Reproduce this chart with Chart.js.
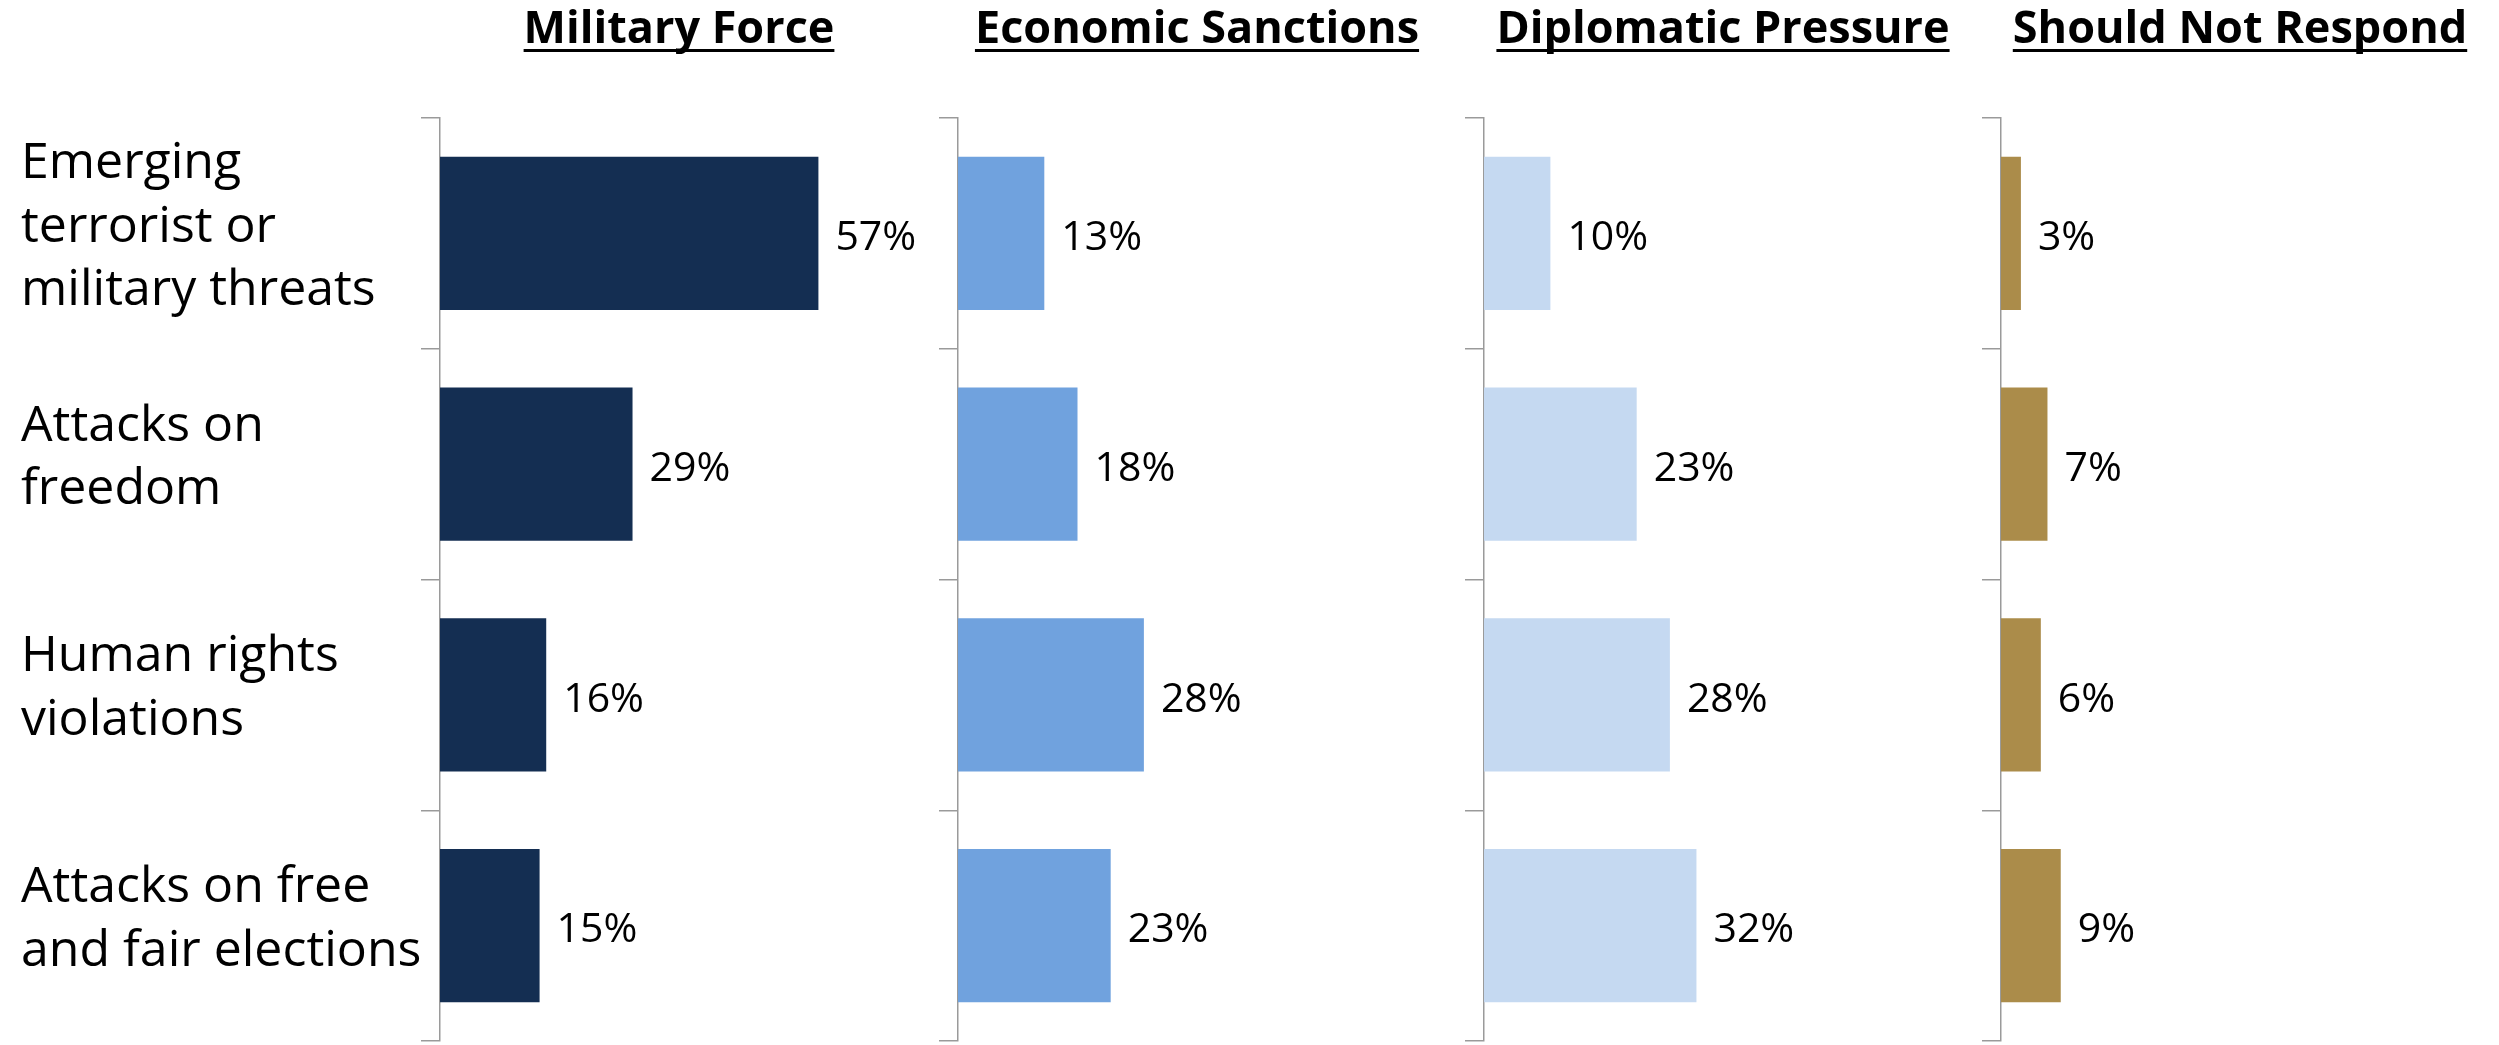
<!DOCTYPE html>
<html>
<head>
<meta charset="utf-8">
<script src="https://cdn.jsdelivr.net/npm/chart.js@4.4.1/dist/chart.umd.min.js"></script>
<style>
  html, body { margin: 0; padding: 0; background: #ffffff; }
  body { width: 2499px; height: 1045px; position: relative; overflow: hidden; }
  canvas { position: absolute; top: 0; }
</style>
</head>
<body>
<canvas id="c1"></canvas>
<canvas id="c2"></canvas>
<canvas id="c3"></canvas>
<canvas id="c4"></canvas>
<script>
// ---- Data ----
const categories = [
  ["Emerging", "terrorist or", "military threats"],
  ["Attacks on", "freedom"],
  ["Human rights", "violations"],
  ["Attacks on free", "and fair elections"]
];
const panelTitles = ["Military Force", "Economic Sanctions", "Diplomatic Pressure", "Should Not Respond"];
const militaryForce = [57, 29, 16, 15];
const economicSanctions = [13, 18, 28, 23];
const diplomaticPressure = [10, 23, 28, 32];
const shouldNotRespond = [3, 7, 6, 9];

// ---- Styling / layout (not data) ----
const seriesList = [militaryForce, economicSanctions, diplomaticPressure, shouldNotRespond];
const colors = ["#142E52", "#70A2DE", "#C5D9F1", "#AB8C4A"];
const axisX = [440, 958, 1484, 2001];
const plotW = 478;
const FONT = "'Open Sans', 'Noto Sans', sans-serif";
const TITLE_SIZE = 45;

const valueLabels = {
  id: 'valueLabels',
  afterDatasetsDraw(chart) {
    const ctx = chart.ctx;
    ctx.save();
    ctx.font = "41px " + FONT;
    ctx.fillStyle = "#000000";
    ctx.textAlign = "left";
    ctx.textBaseline = "middle";
    chart.data.datasets.forEach((ds, di) => {
      chart.getDatasetMeta(di).data.forEach((bar, i) => {
        ctx.fillText(ds.data[i] + "%", bar.x + 17, bar.y + 5);
      });
    });
    ctx.restore();
  }
};

const titleUnderline = {
  id: 'titleUnderline',
  afterDraw(chart) {
    const tb = chart.titleBlock;
    if (!tb) return;
    const ctx = chart.ctx;
    const opts = chart.options.plugins.title;
    ctx.save();
    ctx.font = "bold " + TITLE_SIZE + "px " + FONT;
    const w = ctx.measureText(opts.text).width;
    const cx = (tb.left + tb.right) / 2;
    const y = tb.top + 49;
    ctx.fillStyle = "#000000";
    ctx.fillRect(cx - w / 2, y, w, 3);
    ctx.restore();
  }
};

function makeChart(idx) {
  const first = idx === 0;
  const yW = first ? 419 : 25;
  const padL = first ? 21 : 0;
  const canvasLeft = axisX[idx] - yW - padL;
  const cw = padL + yW + plotW;
  const el = document.getElementById('c' + (idx + 1));
  el.width = cw; el.height = 1045;
  el.style.left = canvasLeft + 'px';
  el.style.width = cw + 'px'; el.style.height = '1045px';

  return new Chart(el, {
    type: 'bar',
    data: {
      labels: categories,
      datasets: [{
        data: seriesList[idx],
        backgroundColor: colors[idx],
        borderWidth: 0,
        barPercentage: 0.665,
        categoryPercentage: 1.0
      }]
    },
    options: {
      indexAxis: 'y',
      responsive: false,
      animation: false,
      devicePixelRatio: 1,
      layout: { padding: { left: padL, right: 0, top: 0, bottom: 4 } },
      scales: {
        x: { display: false, min: 0, max: 72 },
        y: {
          afterFit(scale) {
            scale.width = yW;
            scale.paddingTop = 0;
            scale.paddingBottom = 0;
          },
          grid: {
            display: true,
            drawOnChartArea: false,
            drawTicks: true,
            tickLength: 19,
            color: '#9a9a9a',
            lineWidth: 1.5,
            offset: true
          },
          border: { display: true, color: '#9a9a9a', width: 1.5 },
          ticks: {
            display: first,
            crossAlign: 'far',
            padding: 0,
            labelOffset: -6,
            color: '#000000',
            font: { family: FONT, size: 50, lineHeight: 1.27 }
          }
        }
      },
      plugins: {
        legend: { display: false },
        tooltip: { enabled: false },
        title: {
          display: true,
          text: panelTitles[idx],
          fullSize: false,
          align: 'center',
          color: '#000000',
          font: { family: FONT, size: TITLE_SIZE, weight: 'bold', lineHeight: 1.2 },
          padding: { top: 3, bottom: 61 }
        }
      }
    },
    plugins: [valueLabels, titleUnderline]
  });
}

for (let i = 0; i < 4; i++) makeChart(i);
</script>
</body>
</html>
